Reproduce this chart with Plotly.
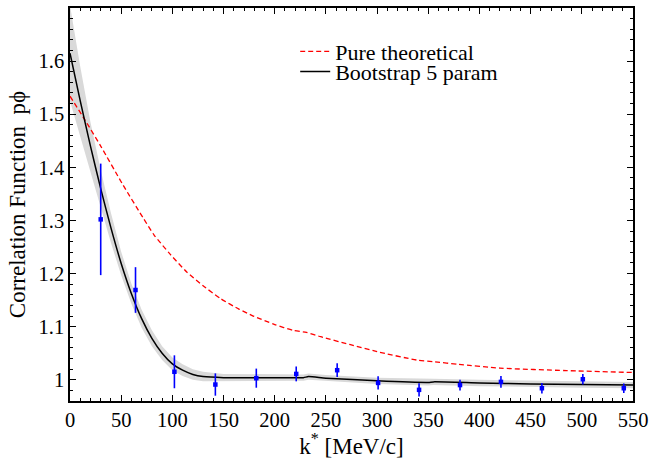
import plotly.graph_objects as go

# ---- data ----
k_data = [30, 64, 102, 142, 182, 221, 261, 301, 341, 381, 421, 461, 501, 541]
C_data = [1.302, 1.169, 1.015, 0.991, 1.003, 1.011, 1.018, 0.994, 0.981, 0.990, 0.996, 0.984, 1.001, 0.984]
C_err = [0.105, 0.043, 0.031, 0.021, 0.018, 0.014, 0.013, 0.0125, 0.0125, 0.010, 0.011, 0.010, 0.010, 0.009]

fit_k = [0, 10, 20, 30, 40, 50, 60, 70, 80, 90, 100, 110, 120, 130, 150, 200, 228, 233,
         250, 300, 350, 355, 400, 450, 500, 550]
fit_C = [1.615, 1.525, 1.440, 1.360, 1.286, 1.219, 1.162, 1.115, 1.078, 1.050, 1.030, 1.018,
         1.010, 1.006, 1.004, 1.004, 1.004, 1.006, 1.003, 0.998, 0.995, 0.996, 0.994, 0.992,
         0.991, 0.990]
fit_band = [0.090, 0.065, 0.045, 0.035, 0.028, 0.022, 0.019, 0.017, 0.015, 0.013, 0.012, 0.011,
            0.010, 0.009, 0.007, 0.006, 0.006, 0.006, 0.006, 0.006, 0.006, 0.006, 0.006, 0.006,
            0.006, 0.006]

theo_k = [0, 15, 30, 52, 72, 82, 98, 114, 130, 147, 165, 179, 200, 218, 231, 245, 274, 300,
          339, 355, 380, 420, 485, 550]
theo_C = [1.534, 1.488, 1.440, 1.366, 1.303, 1.273, 1.236, 1.203, 1.177, 1.153, 1.133, 1.120,
          1.104, 1.093, 1.089, 1.081, 1.066, 1.053, 1.037, 1.034, 1.029, 1.022, 1.0172, 1.0137]

x_ticks = list(range(0, 551, 50))
y_ticks = [1.0, 1.1, 1.2, 1.3, 1.4, 1.5, 1.6]
y_ticktext = ["1", "1.1", "1.2", "1.3", "1.4", "1.5", "1.6"]

FONT = "Liberation Serif"

band_hi = [c + b for c, b in zip(fit_C, fit_band)]
band_lo = [c - b for c, b in zip(fit_C, fit_band)]

fig = go.Figure()

# uncertainty band
fig.add_trace(go.Scatter(
    x=fit_k + fit_k[::-1], y=band_hi + band_lo[::-1],
    fill="toself", fillcolor="#d9d9d9", line=dict(width=0),
    mode="lines", hoverinfo="skip", showlegend=False))

fig.add_trace(go.Scatter(
    x=theo_k, y=theo_C, mode="lines", name="Pure theoretical",
    line=dict(color="#ff0000", width=1.3, dash="5px,3px", shape="spline", smoothing=0.6),
    legend="legend"))

fig.add_trace(go.Scatter(
    x=fit_k, y=fit_C, mode="lines", name="Bootstrap 5 param",
    line=dict(color="black", width=1.5, shape="spline", smoothing=0.6),
    legend="legend2"))

fig.add_trace(go.Scatter(
    x=k_data, y=C_data, mode="markers", showlegend=False,
    marker=dict(color="#0000ff", size=4.5, symbol="square"),
    error_y=dict(type="data", array=C_err, color="#0000ff", thickness=1.6, width=0)))

axis_common = dict(
    showline=True, linecolor="black", linewidth=1.5, mirror="ticks",
    ticks="inside", ticklen=6, tickwidth=1.2, tickcolor="black",
    showgrid=False, zeroline=False,
    tickfont=dict(family=FONT, size=20.5, color="black"),
)

fig.update_xaxes(
    range=[0, 550], tickmode="array", tickvals=x_ticks,
    minor=dict(dtick=10, tick0=0, ticks="inside", ticklen=3, tickwidth=1, tickcolor="black", showgrid=False),
    title=dict(text="k<sup>*</sup> [MeV/c]", font=dict(family=FONT, size=23, color="black"), standoff=3),
    **axis_common)
fig.update_yaxes(
    range=[0.96, 1.70], tickmode="array", tickvals=y_ticks, ticktext=y_ticktext,
    minor=dict(dtick=0.02, tick0=1.0, ticks="inside", ticklen=3, tickwidth=1, tickcolor="black", showgrid=False),
    title=dict(text="Correlation Function  p\u03d5", font=dict(family=FONT, size=23, color="black"), standoff=6),
    **axis_common)

legend_common = dict(
    xanchor="left", yanchor="middle", bgcolor="rgba(0,0,0,0)",
    font=dict(family=FONT, size=22, color="black"), itemwidth=30,
)
fig.update_layout(
    width=654, height=459,
    margin=dict(l=70, r=21, t=6, b=58),
    paper_bgcolor="white", plot_bgcolor="white",
    showlegend=True,
    legend=dict(x=0.40, y=0.889, **legend_common),
    legend2=dict(x=0.40, y=0.838, **legend_common),
)

fig.write_html("out.html")
